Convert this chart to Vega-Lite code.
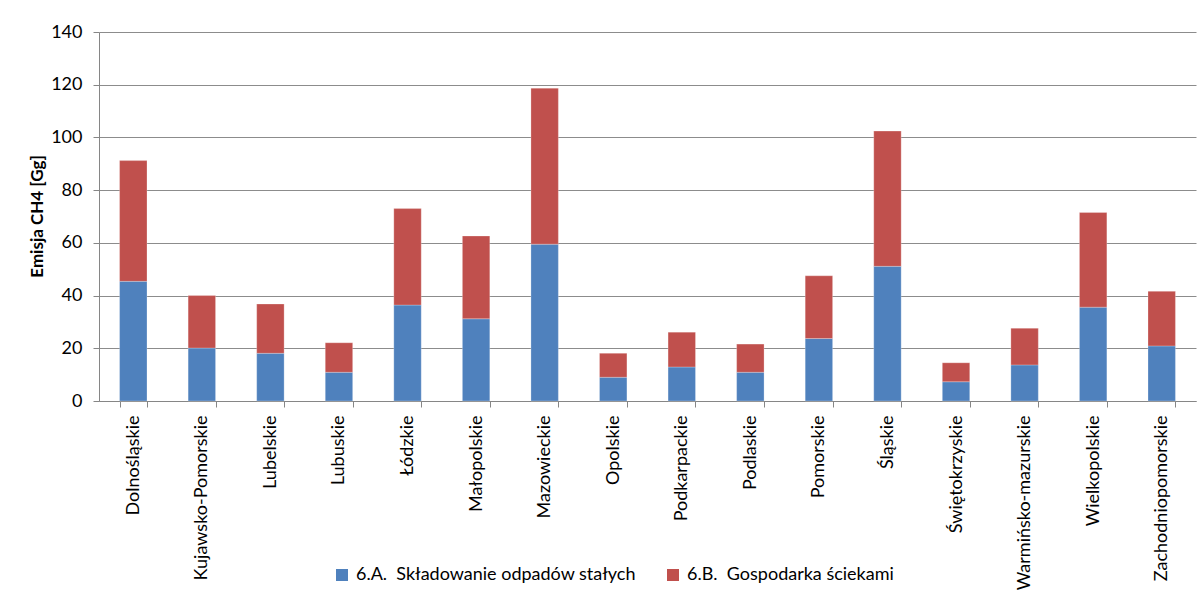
{
  "$schema": "https://vega.github.io/schema/vega-lite/v6.json",
  "width": 1097,
  "height": 369,
  "autosize": {"type": "none"},
  "padding": {"left": 99, "top": 32, "right": 5, "bottom": 192},
  "background": "white",
  "config": {
    "view": {"stroke": null},
    "font": "Lato",
    "axis": {"labelFont": "Lato", "titleFont": "Lato", "labelColor": "#000000", "titleColor": "#000000"}
  },
  "data": {
    "values": [
      {"region": "Dolnośląskie", "cat": "6.A.\u00a0 Składowanie odpadów stałych", "o": 1, "value": 45.4},
      {"region": "Dolnośląskie", "cat": "6.B.\u00a0 Gospodarka ściekami", "o": 2, "value": 45.8},
      {"region": "Kujawsko-Pomorskie", "cat": "6.A.\u00a0 Składowanie odpadów stałych", "o": 1, "value": 20.1},
      {"region": "Kujawsko-Pomorskie", "cat": "6.B.\u00a0 Gospodarka ściekami", "o": 2, "value": 19.9},
      {"region": "Lubelskie", "cat": "6.A.\u00a0 Składowanie odpadów stałych", "o": 1, "value": 18.1},
      {"region": "Lubelskie", "cat": "6.B.\u00a0 Gospodarka ściekami", "o": 2, "value": 18.7},
      {"region": "Lubuskie", "cat": "6.A.\u00a0 Składowanie odpadów stałych", "o": 1, "value": 10.9},
      {"region": "Lubuskie", "cat": "6.B.\u00a0 Gospodarka ściekami", "o": 2, "value": 11.2},
      {"region": "Łódzkie", "cat": "6.A.\u00a0 Składowanie odpadów stałych", "o": 1, "value": 36.4},
      {"region": "Łódzkie", "cat": "6.B.\u00a0 Gospodarka ściekami", "o": 2, "value": 36.6},
      {"region": "Małopolskie", "cat": "6.A.\u00a0 Składowanie odpadów stałych", "o": 1, "value": 31.2},
      {"region": "Małopolskie", "cat": "6.B.\u00a0 Gospodarka ściekami", "o": 2, "value": 31.4},
      {"region": "Mazowieckie", "cat": "6.A.\u00a0 Składowanie odpadów stałych", "o": 1, "value": 59.5},
      {"region": "Mazowieckie", "cat": "6.B.\u00a0 Gospodarka ściekami", "o": 2, "value": 59.2},
      {"region": "Opolskie", "cat": "6.A.\u00a0 Składowanie odpadów stałych", "o": 1, "value": 9.0},
      {"region": "Opolskie", "cat": "6.B.\u00a0 Gospodarka ściekami", "o": 2, "value": 9.1},
      {"region": "Podkarpackie", "cat": "6.A.\u00a0 Składowanie odpadów stałych", "o": 1, "value": 12.9},
      {"region": "Podkarpackie", "cat": "6.B.\u00a0 Gospodarka ściekami", "o": 2, "value": 13.2},
      {"region": "Podlaskie", "cat": "6.A.\u00a0 Składowanie odpadów stałych", "o": 1, "value": 10.9},
      {"region": "Podlaskie", "cat": "6.B.\u00a0 Gospodarka ściekami", "o": 2, "value": 10.7},
      {"region": "Pomorskie", "cat": "6.A.\u00a0 Składowanie odpadów stałych", "o": 1, "value": 23.7},
      {"region": "Pomorskie", "cat": "6.B.\u00a0 Gospodarka ściekami", "o": 2, "value": 23.8},
      {"region": "Śląskie", "cat": "6.A.\u00a0 Składowanie odpadów stałych", "o": 1, "value": 51.1},
      {"region": "Śląskie", "cat": "6.B.\u00a0 Gospodarka ściekami", "o": 2, "value": 51.3},
      {"region": "Świętokrzyskie", "cat": "6.A.\u00a0 Składowanie odpadów stałych", "o": 1, "value": 7.3},
      {"region": "Świętokrzyskie", "cat": "6.B.\u00a0 Gospodarka ściekami", "o": 2, "value": 7.2},
      {"region": "Warmińsko-mazurskie", "cat": "6.A.\u00a0 Składowanie odpadów stałych", "o": 1, "value": 13.7},
      {"region": "Warmińsko-mazurskie", "cat": "6.B.\u00a0 Gospodarka ściekami", "o": 2, "value": 13.9},
      {"region": "Wielkopolskie", "cat": "6.A.\u00a0 Składowanie odpadów stałych", "o": 1, "value": 35.6},
      {"region": "Wielkopolskie", "cat": "6.B.\u00a0 Gospodarka ściekami", "o": 2, "value": 35.9},
      {"region": "Zachodniopomorskie", "cat": "6.A.\u00a0 Składowanie odpadów stałych", "o": 1, "value": 20.9},
      {"region": "Zachodniopomorskie", "cat": "6.B.\u00a0 Gospodarka ściekami", "o": 2, "value": 20.7}
    ]
  },
  "mark": {"type": "bar", "stroke": "#ffffff", "strokeOpacity": 0.5, "strokeWidth": 0.5},
  "encoding": {
    "x": {
      "field": "region",
      "type": "nominal",
      "sort": null,
      "scale": {"paddingInner": 0.6, "paddingOuter": 0.3},
      "axis": {
        "title": null,
        "labelAngle": -90,
        "labelAlign": "right",
        "labelBaseline": "middle",
        "labelFontSize": 18,
        "labelPadding": 8,
        "tickBand": "extent",
        "tickSize": 6,
        "tickColor": "#868686",
        "domainColor": "#868686",
        "labelLimit": 300
      }
    },
    "y": {
      "field": "value",
      "type": "quantitative",
      "stack": "zero",
      "scale": {"domain": [0, 140], "nice": false},
      "axis": {
        "title": "Emisja CH4 [Gg]",
        "titleFontSize": 17,
        "titleFontWeight": "bold",
        "titleX": -53,
        "titleY": 184,
        "titleAngle": -90,
        "titleAlign": "center",
        "titleBaseline": "bottom",
        "values": [0, 20, 40, 60, 80, 100, 120, 140],
        "labelFontSize": 18,
        "labelPadding": 11,
        "tickSize": 6,
        "tickColor": "#868686",
        "domain": true,
        "domainColor": "#868686",
        "grid": true,
        "gridColor": "#8c8c8c",
        "gridWidth": 1
      }
    },
    "color": {
      "field": "cat",
      "type": "nominal",
      "scale": {"domain": ["6.A.\u00a0 Składowanie odpadów stałych", "6.B.\u00a0 Gospodarka ściekami"], "range": ["#4f81bd", "#c0504d"]},
      "legend": {
        "title": null,
        "orient": "none",
        "direction": "horizontal",
        "legendX": 234,
        "legendY": 534,
        "padding": 0,
        "symbolType": "square",
        "symbolSize": 144,
        "symbolStrokeWidth": 0,
        "symbolOpacity": 1,
        "labelFontSize": 18,
        "labelFont": "Lato",
        "labelColor": "#000000",
        "labelOffset": 5,
        "columnPadding": 28,
        "labelLimit": 400
      }
    },
    "order": {"field": "o", "type": "quantitative"}
  }
}
